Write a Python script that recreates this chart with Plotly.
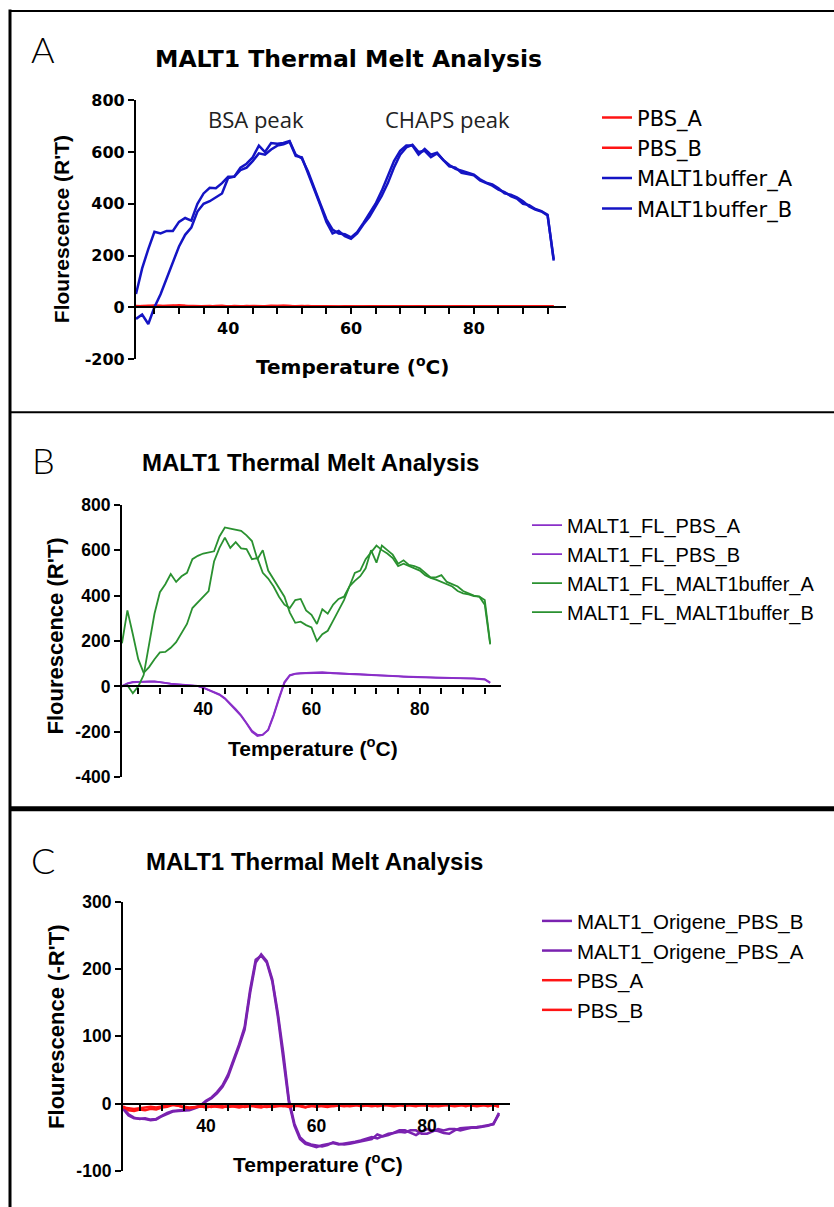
import plotly.graph_objects as go

# ---------------- data ----------------
TEMP = list(range(25, 94))  # 25 .. 93 degC

# Panel A
A_PBS_A = [5, 4, 6, 5, 3, 6, 7, 4, 5, 3,
           4, 6, 5, 3, 4, 5, 4, 3, 5, 4,
           3, 4, 6, 5, 4, 3, 4, 5, 3, 4,
           5, 4, 3, 2, 4, 3, 2, 3, 4, 3,
           2, 3, 4, 3, 2, 3, 4, 2, 3, 4,
           3, 2, 3, 4, 2, 3, 5, 4, 3, 2,
           3, 4, 3, 2, 3, 4, 3, 4, 3]
A_PBS_B = [2, 5, 4, 7, 6, 4, 5, 8, 6, 5,
           6, 4, 3, 5, 6, 3, 5, 4, 3, 5,
           4, 5, 3, 4, 6, 5, 3, 4, 5, 3,
           3, 2, 4, 3, 2, 4, 3, 2, 3, 4,
           3, 4, 2, 4, 3, 2, 3, 4, 2, 3,
           2, 4, 2, 3, 4, 2, 3, 2, 4, 3,
           4, 2, 4, 3, 2, 3, 4, 2, 4]
A_MB_A = [51, 150, 225, 292, 285, 295, 295, 330, 345, 335,
          400, 440, 462, 460, 480, 505, 505, 540, 555, 580,
          625, 600, 635, 632, 635, 643, 590, 575, 525, 460,
          400, 340, 300, 285, 282, 270, 290, 325, 360, 400,
          450, 505, 565, 605, 625, 625, 590, 612, 590, 598,
          570, 550, 535, 528, 520, 513, 495, 482, 475, 460,
          440, 435, 425, 410, 390, 378, 370, 355, 185]
A_MB_B = [-45, -28, -65, 0, 50, 110, 175, 235, 280, 308,
          370, 400, 410, 425, 440, 500, 505, 530, 540, 565,
          595, 590, 610, 625, 630, 640, 585, 580, 520, 455,
          395, 330, 285, 295, 275, 265, 285, 320, 350, 390,
          430, 480, 540, 590, 618, 628, 600, 605, 580, 595,
          568, 545, 540, 520, 515, 510, 490, 480, 470, 455,
          445, 430, 420, 400, 395, 380, 372, 358, 180]

# Panel B
B_PBS_A = [0, 12, 18, 20, 20, 22, 22, 18, 15, 12,
           10, 8, 6, 5, 2, -5, -15, -25, -35, -52,
           -75, -100, -127, -160, -195, -213, -212, -193, -130, -55,
           15, 48, 55, 57, 58, 59, 60, 62, 60, 58,
           57, 55, 56, 54, 52, 50, 50, 49, 48, 46,
           45, 44, 42, 42, 41, 40, 40, 39, 38, 38,
           38, 37, 36, 35, 35, 34, 33, 30, 15]
B_PBS_B = [2, 14, 20, 21, 22, 23, 21, 19, 14, 11,
           9, 7, 5, 3, 1, -6, -16, -27, -37, -54,
           -78, -104, -130, -163, -200, -218, -214, -190, -125, -50,
           20, 50, 56, 58, 60, 61, 62, 63, 61, 59,
           58, 57, 55, 55, 53, 52, 51, 50, 49, 47,
           46, 45, 44, 43, 42, 41, 41, 40, 39, 39,
           38, 38, 37, 36, 35, 35, 34, 32, 17]
B_MB_A = [190, 335, 230, 120, 60, 85, 120, 150, 152, 170,
          195, 235, 275, 345, 370, 395, 420, 550, 610, 655,
          610, 635, 608, 605, 560, 565, 500, 475, 440, 395,
          360, 345, 380, 385, 335, 315, 275, 340, 320, 360,
          385, 395, 440, 465, 485, 520, 600, 545, 620, 600,
          580, 540, 555, 535, 530, 520, 500, 480, 480, 490,
          460, 450, 440, 420, 410, 400, 395, 380, 190]
B_MB_B = [0, 5, -30, 0, 50, 190, 320, 415, 450, 495,
          460, 485, 500, 560, 575, 585, 590, 595, 660, 700,
          695, 690, 685, 665, 640, 560, 600, 510, 470, 430,
          395, 325, 280, 285, 270, 260, 200, 230, 245, 290,
          335, 380, 440, 500, 510, 560, 590, 620, 600, 585,
          565, 530, 540, 530, 520, 510, 490, 478, 470, 460,
          450, 440, 420, 410, 405, 398, 395, 360, 185]

# Panel C
C_ORI_B = [-8, -18, -22, -22, -23, -25, -24, -19, -15, -12,
           -11, -11, -10, -7, -4, 3, 8, 15, 25, 40,
           62, 85, 110, 165, 210, 222, 212, 185, 135, 75,
           6, -30, -50, -58, -61, -63, -64, -62, -58, -60,
           -61, -60, -58, -56, -54, -53, -46, -49, -47, -44,
           -40, -40, -44, -47, -42, -38, -40, -41, -44, -45,
           -40, -37, -36, -36, -35, -34, -33, -31, -14]
C_ORI_A = [-6, -16, -21, -23, -22, -24, -23, -18, -14, -11,
           -10, -10, -9, -6, -3, 4, 9, 17, 27, 43,
           65, 88, 114, 170, 214, 220, 210, 182, 130, 70,
           2, -33, -53, -60, -63, -65, -62, -60, -59, -61,
           -60, -58, -57, -55, -53, -50, -52, -48, -45, -44,
           -42, -43, -40, -40, -45, -45, -42, -38, -40, -38,
           -38, -40, -38, -36, -36, -35, -33, -30, -16]
C_PBS_A = [-6, -7, -8, -7, -6, -5, -6, -4, -3, -2,
           -4, -5, -6, -5, -5, -4, -5, -3, -4, -5,
           -4, -3, -5, -4, -3, -4, -5, -4, -3, -4,
           -3, -4, -3, -5, -4, -3, -4, -5, -3, -2,
           -3, -4, -3, -2, -3, -4, -3, -2, -3, -4,
           -3, -2, -3, -4, -2, -3, -4, -3, -2, -3,
           -4, -3, -2, -3, -4, -3, -2, -3, -4]
C_PBS_B = [-4, -10, -11, -9, -10, -8, -9, -6, -5, -2,
           -3, -6, -7, -6, -4, -6, -4, -5, -6, -3,
           -5, -6, -4, -3, -5, -6, -3, -5, -4, -3,
           -5, -3, -4, -6, -3, -5, -3, -4, -4, -3,
           -4, -3, -2, -4, -3, -2, -4, -3, -2, -3,
           -2, -4, -2, -3, -3, -2, -3, -4, -3, -2,
           -3, -2, -4, -2, -3, -2, -4, -2, -5]

X_TICKS = [28, 32, 36, 40, 44, 48, 52, 56, 60, 64, 68, 72, 76, 80, 84, 88, 92]
X_LABELED = [40, 60, 80]
A_YTICKS = [-200, 0, 200, 400, 600, 800]
B_YTICKS = [-400, -200, 0, 200, 400, 600, 800]
C_YTICKS = [-100, 0, 100, 200, 300]

# ---------------- layout helpers ----------------
W, H = 834, 1207
# the photographed page comes out slightly squeezed vertically; place items so
# that they land on the wanted screen rows
Y_OFF, Y_SCALE = 8.5, 0.985


def px(x):
    return x / W


def py(y):
    return 1 - ((y - Y_OFF) / Y_SCALE) / H


RED = "#ff1414"
BLUE = "#1414c4"
GREEN = "#2a9130"
PURPLE_B = "#8a2fc8"
PURPLE_C = "#7a22b0"

fig = go.Figure()

for name, vals, col in [("PBS_A", A_PBS_A, RED), ("PBS_B", A_PBS_B, RED),
                        ("MALT1buffer_A", A_MB_A, BLUE), ("MALT1buffer_B", A_MB_B, BLUE)]:
    fig.add_trace(go.Scatter(x=TEMP, y=vals, name=name, mode="lines",
                             line=dict(color=col, width=2.5),
                             xaxis="x", yaxis="y", legend="legend"))
for name, vals, col in [("MALT1_FL_PBS_A", B_PBS_A, PURPLE_B), ("MALT1_FL_PBS_B", B_PBS_B, PURPLE_B),
                        ("MALT1_FL_MALT1buffer_A", B_MB_A, GREEN), ("MALT1_FL_MALT1buffer_B", B_MB_B, GREEN)]:
    fig.add_trace(go.Scatter(x=TEMP, y=vals, name=name, mode="lines",
                             line=dict(color=col, width=1.8),
                             xaxis="x2", yaxis="y2", legend="legend2"))
for name, vals, col in [("MALT1_Origene_PBS_B", C_ORI_B, PURPLE_C), ("MALT1_Origene_PBS_A", C_ORI_A, PURPLE_C),
                        ("PBS_A", C_PBS_A, RED), ("PBS_B", C_PBS_B, RED)]:
    fig.add_trace(go.Scatter(x=TEMP, y=vals, name=name, mode="lines",
                             line=dict(color=col, width=2.5),
                             xaxis="x3", yaxis="y3", legend="legend3"))

ARIAL = "Liberation Sans, Arial, sans-serif"
WIDE = "DejaVu Sans, Verdana, sans-serif"   # panel A of the reference is horizontally stretched

panels = {
    # key: (x_left_px, x_right_px, y_top_px, y_bottom_px, yrange, yticks, tickfont)
    "": (136, 566, 99, 358, [-200, 800], A_YTICKS,
         dict(family=WIDE, size=16, color="black", weight="bold")),
    "2": (122, 501, 504, 777, [-400, 800], B_YTICKS,
          dict(family=ARIAL, size=17.5, color="black", weight="bold")),
    "3": (123, 510, 902, 1171, [-100, 300], C_YTICKS,
          dict(family=ARIAL, size=17.5, color="black", weight="bold")),
}

for k, (xl, xr, yt, yb, yr, ytk, tf) in panels.items():
    d0, d1 = py(yb), py(yt)
    zero_pos = d0 + (0 - yr[0]) / (yr[1] - yr[0]) * (d1 - d0)
    fig.layout["xaxis" + k] = dict(
        domain=[px(xl), px(xr)], range=[25, 95], anchor="free", position=zero_pos,
        showline=True, linecolor="black", linewidth=2.2, showgrid=False, zeroline=False,
        ticks="outside", ticklen=6, tickwidth=2, tickcolor="black",
        tickmode="array", tickvals=X_TICKS,
        ticktext=[str(v) if v in X_LABELED else "" for v in X_TICKS],
        tickfont=tf, fixedrange=True)
    fig.layout["yaxis" + k] = dict(
        domain=[d0, d1], range=yr, anchor="x" + k,
        showline=True, linecolor="black", linewidth=2.2, showgrid=False, zeroline=False,
        ticks="outside", ticklen=6, tickwidth=2, tickcolor="black",
        tickmode="array", tickvals=ytk, ticktext=[str(v) for v in ytk],
        tickfont=tf, fixedrange=True)

fig.update_layout(
    width=W, height=H, margin=dict(l=0, r=0, t=0, b=0),
    paper_bgcolor="white", plot_bgcolor="white", showlegend=True,
    legend=dict(x=px(597), y=py(96), xanchor="left", yanchor="top",
                font=dict(family=WIDE, size=21, color="black"), bgcolor="rgba(0,0,0,0)",
                tracegroupgap=0),
    legend2=dict(x=px(527), y=py(505), xanchor="left", yanchor="top",
                 font=dict(family=ARIAL, size=20, color="black"),
                 bgcolor="rgba(0,0,0,0)", tracegroupgap=0),
    legend3=dict(x=px(537), y=py(901), xanchor="left", yanchor="top",
                 font=dict(family=ARIAL, size=20.5, color="black"),
                 bgcolor="rgba(0,0,0,0)", tracegroupgap=0),
)

# ---------------- text ----------------
ann = []
LETTER_FONT = dict(family="Lato, Open Sans, sans-serif", size=36, color="black", weight=300)
for letter, lx, ly in [("A", 43, 48), ("B", 43, 459), ("C", 43, 860)]:
    ann.append(dict(text=letter, x=px(lx), y=py(ly), font=LETTER_FONT))

ann.append(dict(text="MALT1 Thermal Melt Analysis", x=px(348), y=py(58),
                font=dict(family=WIDE, size=23.5, color="black", weight="bold")))
for tx, ty in [(310, 462), (314, 861)]:
    ann.append(dict(text="MALT1 Thermal Melt Analysis", x=px(tx), y=py(ty),
                    font=dict(family=ARIAL, size=24, color="black", weight="bold")))

ann.append(dict(text="Temperature (<sup>o</sup>C)", x=px(352), y=py(365),
                font=dict(family=WIDE, size=20, color="black", weight="bold")))
for tx, ty in [(313, 747), (318, 1163)]:
    ann.append(dict(text="Temperature (<sup>o</sup>C)", x=px(tx), y=py(ty),
                    font=dict(family=ARIAL, size=21, color="black", weight="bold")))

for label, tx, ty, fs in [("Flourescence (R'T)", 61, 228, 21), ("Flourescence (R'T)", 55, 636, 22),
                          ("Flourescence (-R'T)", 57, 1027, 22)]:
    ann.append(dict(text=label, x=px(tx), y=py(ty), textangle=-90,
                    font=dict(family=ARIAL, size=fs, color="black", weight="bold")))

PEAK_FONT = dict(family="Open Sans, Lato, sans-serif", size=22, color="#222222")
ann.append(dict(text="BSA peak", x=px(256), y=py(118), font=PEAK_FONT))
ann.append(dict(text="CHAPS peak", x=px(447), y=py(118), font=PEAK_FONT))

for a in ann:
    a.update(xref="paper", yref="paper", xanchor="center", yanchor="middle", showarrow=False)
fig.update_layout(annotations=ann)

# ---------------- panel borders ----------------
shapes = [
    dict(type="line", x0=px(9), x1=1, y0=py(9.5), y1=py(9.5), line=dict(color="black", width=2.2)),
    dict(type="line", x0=px(10), x1=px(10), y0=py(8), y1=py(1210), line=dict(color="black", width=3)),
    dict(type="line", x0=px(10), x1=1, y0=py(411.5), y1=py(411.5), line=dict(color="black", width=2)),
    dict(type="line", x0=px(10), x1=1, y0=py(808.5), y1=py(808.5), line=dict(color="black", width=5)),
]
for s in shapes:
    s.update(xref="paper", yref="paper")
fig.update_layout(shapes=shapes)

# pin the 834x1207 figure at the page origin (no body margin / scrollbars)
POST = ("document.documentElement.style.margin='0';"
        "document.body.style.margin='0';"
        "document.body.style.padding='0';"
        "document.body.style.overflow='hidden';"
        "document.documentElement.style.overflow='hidden';"
        "var gd=document.getElementsByClassName('plotly-graph-div')[0];"
        "gd.style.position='fixed';gd.style.left='0px';gd.style.top='0px';")
fig.write_html("out.html", post_script=POST, config={"displayModeBar": False})
